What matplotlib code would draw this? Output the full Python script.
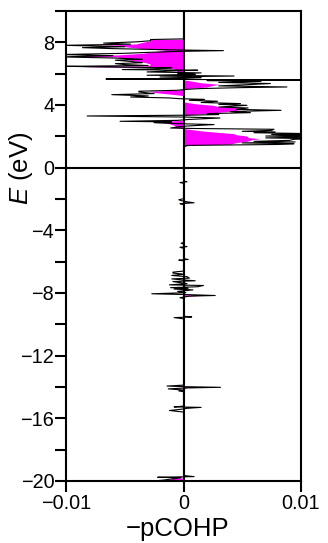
import matplotlib
matplotlib.use("Agg")
import matplotlib.pyplot as plt
import numpy as np
from matplotlib.ticker import MultipleLocator

plt.rcParams['font.family'] = ['Liberation Sans', 'DejaVu Sans']
plt.rcParams['mathtext.fontset'] = 'custom'
plt.rcParams['mathtext.it'] = 'Liberation Sans:italic'
plt.rcParams['mathtext.rm'] = 'Liberation Sans'

# -pCOHP values in units of 1e-3
black_E = [-20.0, -19.95, -19.88, -19.8, -19.76, -19.72, -19.65,
           -15.6, -15.5, -15.42, -15.36, -15.3, -15.27, -15.22,
           -14.3, -14.25, -14.2, -14.12, -14.06, -14.02, -13.98, -13.94, -13.88,
           -9.65, -9.57, -9.53, -9.48,
           -8.35, -8.3, -8.2, -8.16, -8.1, -8.05, -7.98, -7.9, -7.8, -7.75, -7.7, -7.66, -7.6,
           -7.52, -7.48, -7.4, -7.27, -7.22, -7.15, -7.1, -7.05, -6.96, -6.88, -6.8, -6.73, -6.67, -6.6,
           -5.95, -5.9, -5.86, -5.8,
           -5.15, -5.08, -5.04, -5.0,
           -4.88, -4.82, -4.78,
           -2.35, -2.3, -2.24, -2.18, -2.1, -2.05, -1.98,
           -1.0, -0.95, -0.9, -0.85,
           1.30, 1.42, 1.48, 1.53, 1.58, 1.64, 1.68, 1.74, 1.81, 1.85, 1.9, 1.96, 2.02, 2.06,
           2.12, 2.17, 2.23, 2.28, 2.32, 2.38, 2.45, 2.5, 2.53, 2.6, 2.66, 2.75, 2.81, 2.87,
           2.92, 2.96, 3.02, 3.08, 3.17, 3.23, 3.3, 3.35, 3.39, 3.45, 3.51, 3.58, 3.66, 3.72,
           3.81, 3.87, 3.98, 4.04, 4.09, 4.16, 4.24, 4.3, 4.36, 4.4, 4.45, 4.51, 4.58, 4.66,
           4.73, 4.83, 4.88, 4.94, 5.0, 5.05, 5.11, 5.15, 5.22, 5.3, 5.37, 5.44, 5.51, 5.56,
           5.6, 5.63, 5.66, 5.7, 5.75, 5.79, 5.85, 5.9, 5.95, 6.0, 6.05, 6.11, 6.17, 6.22,
           6.26, 6.32, 6.38, 6.43, 6.47, 6.52, 6.58, 6.64, 6.7, 6.78, 6.86, 6.92, 7.0, 7.07,
           7.15, 7.22, 7.3, 7.36, 7.42, 7.47, 7.52, 7.6, 7.66, 7.72, 7.81, 7.88, 7.95, 8.03,
           8.1, 8.18, 8.22, 8.3, 10.0]
black_v = [-2.6, -1.8, -1.1, -0.2, -2.2, 0.9, 0.0,
           0.0, -1.2, -0.2, 0.3, 1.5, -0.8, 0.0,
           0.0, -0.4, 0.1, -1.3, 0.3, 3.15, 0.2, -1.4, 0.0,
           0.0, -0.8, 0.7, 0.0,
           0.0, -0.3, 0.5, 2.7, 0.2, -2.7, 0.2, -0.5, 0.8, -0.8, 0.4, -1.1, 1.2,
           1.7, -1.2, 0.3, -0.9, 1.0, -0.3, -1.0, 0.5, 0.3, -1.0, 0.1, -0.9, -0.9, 0.0,
           0.0, -0.4, 0.4, 0.0,
           0.0, -0.3, 0.3, 0.0,
           0.0, -0.2, 0.0,
           0.0, -0.3, 0.9, 0.3, -0.2, -0.4, 0.0,
           0.0, -0.3, 0.3, 0.0,
           0.0, 0.3, 8.0, 9.4, 5.0, 9.5, 6.0, 9.0, 9.4, 11.0, 7.0, 11.0, 7.0, 11.0,
           7.5, 11.0, 6.0, 7.8, 5.0, 7.5, 7.7, 1.0, -1.1, -0.5, 0.3, 2.6, -0.5, -2.5,
           -1.0, -5.4, -0.5, 0.5, 3.1, 0.2, -8.2, 0.5, 3.0, 2.0, 5.7, 4.0, 8.3, 4.5,
           5.5, 3.0, 5.4, 3.0, 4.85, 1.5, 2.9, 0.5, 1.8, -0.3, -1.2, -4.5, -3.0, -6.1,
           -2.5, -3.8, -3.8, -0.5, 0.3, 1.5, 5.0, 8.8, 3.0, 5.5, 7.4, 3.0, 6.6, 2.0,
           11.0, 0.0, -6.6, 0.0, 1.5, -2.0, 4.3, -3.1, 1.0, -0.5, 1.5, -3.1, -1.4, 1.2,
           -5.2, -2.0, -1.0, -7.0, -9.9, -3.0, -5.0, -5.8, -3.5, -4.5, -5.8, -3.5, -6.0, -10.5,
           -6.0, -10.5, -5.0, -3.0, -0.5, 3.4, -1.0, -6.0, -8.6, -5.0, -10.2, -4.5, -6.8, -4.0,
           -2.8, -2.8, 0.0, 0.0, 0.0]

fill_E = [-20.0, -19.95, -19.85, -19.8,
          -15.35, -15.3, -15.25,
          -14.08, -14.02, -13.97,
          -8.22, -8.16, -8.1, -7.55, -7.5, -7.45,
          -2.25, -2.2, -2.12,
          1.38, 1.45, 1.5, 1.6, 1.68, 1.78, 1.85, 1.92, 2.02, 2.1, 2.17, 2.25, 2.35, 2.45, 2.5,
          2.55, 2.7, 2.8, 2.87, 2.96, 3.02,
          3.3, 3.38, 3.5, 3.6, 3.7, 3.81, 3.9, 3.98, 4.08, 4.2,
          4.6, 4.7, 4.8, 4.88, 4.95, 5.0,
          5.05, 5.15, 5.25, 5.32, 5.42, 5.55, 5.6,
          6.0, 6.1, 6.2, 6.3,
          6.38, 6.45, 6.5, 6.6, 6.7, 6.86, 6.95, 7.07, 7.12, 7.2, 7.3, 7.4, 7.5, 7.6,
          7.72, 7.81, 7.9, 8.0, 8.1, 8.18, 8.2, 10.0]
fill_v = [0.0, -1.1, -1.1, 0.0,
          0.0, 0.8, 0.0,
          0.0, 0.5, 0.0,
          0.0, 1.3, 0.0, 0.0, 0.4, 0.0,
          0.0, 0.6, 0.0,
          0.0, 1.0, 4.0, 4.5, 5.4, 5.8, 6.5, 5.5, 5.4, 4.5, 4.3, 3.0, 1.5, 0.5, 0.0,
          -0.5, -0.8, -1.2, -1.7, -2.2, 0.0,
          0.0, 0.5, 2.5, 4.0, 4.8, 5.0, 3.0, 2.5, 1.0, 0.0,
          0.0, -1.2, -2.5, -2.95, -0.5, 0.0,
          0.3, 2.0, 2.5, 3.0, 1.5, 0.5, 0.0,
          0.0, -0.5, -0.6, -0.8,
          -1.5, -8.9, -3.0, -2.8, -3.2, -4.5, -5.0, -5.6, -9.8, -5.5, -3.5, -2.5, -1.5, -3.5,
          -5.0, -6.8, -4.0, -3.5, -2.8, -2.8, 0.0, 0.0]

scale = 1e-3
x_ticks = [-0.01, 0.0, 0.01]
x_ticklabels = ['\u22120.01', '0', '0.01']
y_ticks = [-20, -16, -12, -8, -4, 0, 4, 8]

fig = plt.figure(figsize=(3.28, 5.43), dpi=100)
ax = fig.add_axes([66/328, 1-481/543, 235/328, 470/543])

ax.fill_betweenx(fill_E, 0, np.array(fill_v)*scale, color='#ff00ff', lw=0, zorder=2)
ax.plot(np.array(black_v)*scale, black_E, color='black', lw=0.8, zorder=3)
ax.axhline(0, color='black', lw=1.5, zorder=4)
ax.axvline(0, color='black', lw=1.5, zorder=4)

ax.set_xlim(-0.01, 0.01)
ax.set_ylim(-20, 10)
ax.set_xticks(x_ticks)
ax.set_xticklabels(x_ticklabels)
ax.set_yticks(y_ticks)
ax.set_yticklabels([str(t).replace('-', '\u2212') for t in y_ticks])
ax.yaxis.set_minor_locator(MultipleLocator(2))
ax.tick_params(which='both', direction='out', length=8, width=1.5, labelsize=14.3,
               top=False, right=False)
ax.tick_params(axis='y', pad=0.5)
ax.tick_params(axis='x', pad=1.5)
for s in ax.spines.values():
    s.set_linewidth(1.5)

fig.text(178/328, 1-529/543, '\u2212pCOHP', fontsize=18.5, ha='center', va='center')
fig.text(21/328, 1-168/543, '$E$ (eV)', fontsize=18.5, rotation=90,
         ha='center', va='center')

fig.savefig('out.png', dpi=100)
